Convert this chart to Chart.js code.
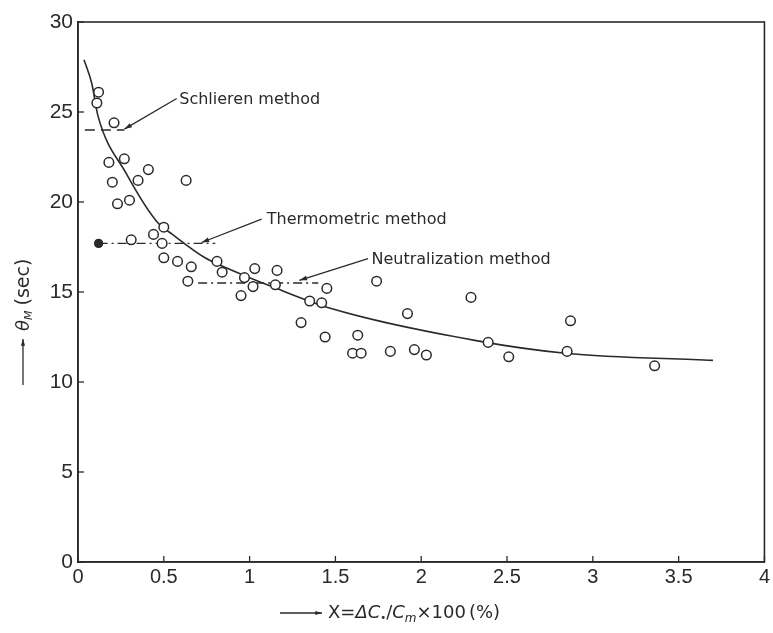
<!DOCTYPE html>
<html>
<head>
<meta charset="utf-8">
<script src="https://cdn.jsdelivr.net/npm/chart.js@4"></script>
<style>
  html, body { margin: 0; padding: 0; background: #fff; }
</style>
</head>
<body>
<canvas id="DiagramTheta" width="773" height="633"></canvas>
<script>
const xTicks = [0, 0.5, 1, 1.5, 2, 2.5, 3, 3.5, 4];
const yTicks = [0, 5, 10, 15, 20, 25, 30];

// measured values (open circles)
const pointX = [0.12, 0.11, 0.21, 0.18, 0.27, 0.41, 0.20, 0.35, 0.63, 0.23, 0.30,
  0.50, 0.44, 0.31, 0.49, 0.50, 0.58, 0.66, 0.81, 0.84, 0.97, 1.03, 1.16, 0.64,
  1.02, 1.15, 0.95, 1.45, 1.74, 1.35, 1.42, 1.30, 1.92, 2.29, 1.44, 1.63, 1.60,
  1.65, 1.82, 1.96, 2.03, 2.39, 2.51, 2.87, 2.85, 3.36];
const pointY = [26.1, 25.5, 24.4, 22.2, 22.4, 21.8, 21.1, 21.2, 21.2, 19.9, 20.1,
  18.6, 18.2, 17.9, 17.7, 16.9, 16.7, 16.4, 16.7, 16.1, 15.8, 16.3, 16.2, 15.6,
  15.3, 15.4, 14.8, 15.2, 15.6, 14.5, 14.4, 13.3, 13.8, 14.7, 12.5, 12.6, 11.6,
  11.6, 11.7, 11.8, 11.5, 12.2, 11.4, 13.4, 11.7, 10.9];

// fitted curve
const curveX = [0.035, 0.08, 0.116, 0.28, 0.46, 0.55, 0.74, 0.90, 1.13, 1.47, 2.32, 2.84, 3.70];
const curveY = [27.9, 26.6, 24.8, 21.6, 18.9, 18.2, 16.9, 16.2, 15.3, 14.1, 12.3, 11.6, 11.2];

// reference levels of the other methods
const schlierenX = [0.04, 0.27];
const schlierenY = [24.0, 24.0];
const thermoX = [0.12, 0.80];
const thermoY = [17.7, 17.7];
const neutralX = [0.70, 1.40];
const neutralY = [15.5, 15.5];

const labelText = ["Schlieren method", "Thermometric method", "Neutralization method"];
const labelX = [0.59, 1.10, 1.71];
const labelY = [25.7, 19.0, 16.8];
const arrowFromX = [0.575, 1.07, 1.69];
const arrowFromY = [25.75, 19.05, 16.85];
const arrowToX = [0.27, 0.72, 1.29];
const arrowToY = [24.05, 17.75, 15.65];

const ink = "#2a2a2a";

function pairs(xs, ys) {
  return xs.map((x, i) => ({ x: x, y: ys[i] }));
}

function drawRich(ctx, pieces, x, y) {
  let cx = x;
  pieces.forEach((p) => {
    ctx.font = p.font;
    ctx.fillText(p.t, cx, y + (p.dy || 0));
    cx += ctx.measureText(p.t).width + (p.gap || 0);
  });
  return cx;
}

function arrow(ctx, x1, y1, x2, y2, head) {
  ctx.beginPath();
  ctx.moveTo(x1, y1);
  ctx.lineTo(x2, y2);
  ctx.stroke();
  const a = Math.atan2(y2 - y1, x2 - x1);
  ctx.beginPath();
  ctx.moveTo(x2, y2);
  ctx.lineTo(x2 - head * Math.cos(a - 0.3), y2 - head * Math.sin(a - 0.3));
  ctx.lineTo(x2 - head * Math.cos(a + 0.3), y2 - head * Math.sin(a + 0.3));
  ctx.closePath();
  ctx.fill();
}

const extras = {
  id: "extras",
  afterDraw(chart) {
    const { ctx, chartArea: area } = chart;
    const sx = chart.scales.x;
    const sy = chart.scales.y;
    ctx.save();
    ctx.strokeStyle = ink;
    ctx.fillStyle = ink;
    ctx.lineWidth = 1.6;

    // frame
    ctx.strokeRect(area.left, area.top, area.right - area.left, area.bottom - area.top);

    // inward ticks
    ctx.lineWidth = 1.3;
    xTicks.forEach((v) => {
      const px = sx.getPixelForValue(v);
      ctx.beginPath();
      ctx.moveTo(px, area.bottom);
      ctx.lineTo(px, area.bottom - 6);
      ctx.stroke();
    });
    yTicks.forEach((v) => {
      const py = sy.getPixelForValue(v);
      ctx.beginPath();
      ctx.moveTo(area.left, py);
      ctx.lineTo(area.left + 6, py);
      ctx.stroke();
    });

    // method labels with pointers
    ctx.lineWidth = 1.3;
    ctx.font = "16px 'DejaVu Sans'";
    ctx.textBaseline = "middle";
    labelText.forEach((t, i) => {
      ctx.fillText(t, sx.getPixelForValue(labelX[i]), sy.getPixelForValue(labelY[i]));
      arrow(ctx,
        sx.getPixelForValue(arrowFromX[i]), sy.getPixelForValue(arrowFromY[i]),
        sx.getPixelForValue(arrowToX[i]), sy.getPixelForValue(arrowToY[i]), 8);
    });

    // x axis title
    ctx.textBaseline = "alphabetic";
    ctx.lineWidth = 1.3;
    const tyX = 618;
    arrow(ctx, 280, tyX - 5, 322, tyX - 5, 7);
    drawRich(ctx, [
      { t: "X", font: "18px 'DejaVu Sans'" },
      { t: "=", font: "18px 'DejaVu Sans'" },
      { t: "ΔC", font: "italic 18px 'DejaVu Sans'" },
      { t: "•", font: "10px 'DejaVu Sans'", dy: 3 },
      { t: "/", font: "18px 'DejaVu Sans'" },
      { t: "C", font: "italic 18px 'DejaVu Sans'" },
      { t: "m", font: "italic 12px 'DejaVu Sans'", dy: 4 },
      { t: "×100", font: "18px 'DejaVu Sans'", gap: 3 },
      { t: "(%)", font: "18px 'DejaVu Sans'" },
    ], 328, tyX);

    // y axis title (rotated, reading upward)
    ctx.translate(29, 385);
    ctx.rotate(-Math.PI / 2);
    arrow(ctx, 0, -6, 46, -6, 7);
    drawRich(ctx, [
      { t: "θ", font: "italic 18px 'DejaVu Sans'" },
      { t: "M", font: "italic 11px 'DejaVu Sans'", dy: 3, gap: 5 },
      { t: "(sec)", font: "19px 'DejaVu Sans'" },
    ], 54, 0);
    ctx.restore();
  },
};

const ctx = document.getElementById("DiagramTheta");

new Chart(ctx, {
  type: "scatter",
  data: {
    datasets: [
      {
        label: "Measured",
        data: pairs(pointX, pointY),
        pointRadius: 4.8,
        pointBorderWidth: 1.5,
        borderColor: ink,
        backgroundColor: "#ffffff",
        order: 0,
      },
      {
        type: "line",
        label: "Curve",
        data: pairs(curveX, curveY),
        borderColor: ink,
        borderWidth: 1.6,
        pointRadius: 0,
        cubicInterpolationMode: "monotone",
        fill: false,
        order: 3,
      },
      {
        type: "line",
        label: "Schlieren method",
        data: pairs(schlierenX, schlierenY),
        borderColor: ink,
        borderWidth: 1.3,
        borderDash: [10, 6],
        pointRadius: 0,
        order: 2,
      },
      {
        type: "line",
        label: "Thermometric method",
        data: pairs(thermoX, thermoY),
        borderColor: ink,
        backgroundColor: ink,
        borderWidth: 1.3,
        borderDash: [9, 4, 2, 4],
        pointRadius: [4, 0],
        order: 2,
      },
      {
        type: "line",
        label: "Neutralization method",
        data: pairs(neutralX, neutralY),
        borderColor: ink,
        borderWidth: 1.3,
        borderDash: [9, 4, 2, 4],
        pointRadius: 0,
        order: 2,
      },
    ],
  },
  options: {
    responsive: false,
    animation: false,
    devicePixelRatio: 1,
    layout: { padding: { left: 0, right: 6, top: 22, bottom: 0 } },
    plugins: {
      legend: { display: false },
      tooltip: { enabled: false },
    },
    scales: {
      x: {
        type: "linear",
        min: 0,
        max: 4,
        afterBuildTicks: (s) => { s.ticks = xTicks.map((v) => ({ value: v })); },
        afterFit: (s) => { s.height = 71; },
        grid: { display: true, drawOnChartArea: false, drawTicks: false },
        border: { display: true, color: ink, width: 1.6 },
        ticks: {
          color: ink,
          font: { family: "'Liberation Sans'", size: 20 },
          padding: 3,
          maxRotation: 0,
          autoSkip: false,
          callback: (v) => String(v),
        },
      },
      y: {
        min: 0,
        max: 30,
        afterBuildTicks: (s) => { s.ticks = yTicks.map((v) => ({ value: v })); },
        afterFit: (s) => { s.width = 78; },
        grid: { display: true, drawOnChartArea: false, drawTicks: false },
        border: { display: true, color: ink, width: 1.6 },
        ticks: {
          color: ink,
          font: { family: "'Liberation Sans'", size: 21 },
          padding: 5,
          callback: (v) => String(v),
        },
      },
    },
  },
  plugins: [extras],
});
</script>
</body>
</html>
